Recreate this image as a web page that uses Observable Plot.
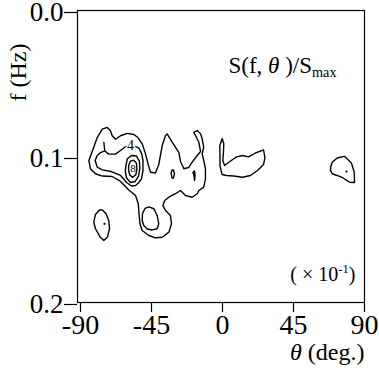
<!DOCTYPE html>
<html><head><meta charset="utf-8">
<script src="https://cdn.jsdelivr.net/npm/d3@7"></script>
<script src="https://cdn.jsdelivr.net/npm/@observablehq/plot@0.6"></script>
<style>body{margin:0;background:#fff} svg{display:block} svg text{font-family:'Liberation Serif','Times New Roman',serif}</style>
</head><body><div id="chart"></div>
<script>
// Axis ticks
const xTicks = [-90, -45, 0, 45, 90];
const yTicks = [0, 0.1, 0.2];

// Contour polylines: [theta (deg), f (Hz)]
const contourOuter = [[-81.6,0.0936],[-79.4,0.0870],[-76.2,0.0813],[-73.1,0.0801],[-71.0,0.0824],[-69.9,0.0858],[-67.8,0.0882],[-64.6,0.0858],[-60.4,0.0842],[-56.2,0.0849],[-53.6,0.0870],[-50.9,0.0913],[-48.8,0.0982],[-46.9,0.1062],[-45.6,0.1108],[-42.5,0.1113],[-40.4,0.1055],[-38.2,0.0925],[-36.1,0.0856],[-35.1,0.0845],[-31.9,0.0902],[-27.7,0.0971],[-26.6,0.1034],[-24.5,0.1084],[-21.4,0.1075],[-19.2,0.1039],[-16.0,0.0993],[-13.9,0.0966],[-15.0,0.0902],[-17.1,0.0856],[-18.2,0.0834],[-16.0,0.0822],[-13.9,0.0845],[-12.9,0.0879],[-11.9,0.0936],[-12.9,0.0982],[-11.9,0.1027],[-10.8,0.1084],[-10.8,0.1153],[-11.9,0.1210],[-15.0,0.1233],[-16.0,0.1255],[-19.2,0.1279],[-23.5,0.1267],[-26.6,0.1233],[-29.8,0.1255],[-34.0,0.1279],[-36.6,0.1301],[-37.8,0.1336],[-36.1,0.1370],[-33.0,0.1404],[-32.3,0.1461],[-34.0,0.1518],[-38.2,0.1553],[-42.5,0.1557],[-46.7,0.1541],[-50.9,0.1507],[-52.3,0.1461],[-52.9,0.1392],[-53.4,0.1324],[-55.1,0.1267],[-59.4,0.1229],[-64.6,0.1171],[-69.9,0.1137],[-76.2,0.1134],[-80.5,0.1118],[-83.7,0.1084],[-84.7,0.1027]];
const contourFour = [[-75.2,0.0904],[-74.6,0.0962],[-72.1,0.0984],[-67.8,0.0984],[-63.6,0.0950],[-61.5,0.0932],[-58.3,0.0928],[-55.1,0.0932],[-53.0,0.0942],[-51.3,0.0979],[-50.4,0.1027],[-50.4,0.1096],[-51.3,0.1151],[-53.0,0.1178],[-55.1,0.1199],[-57.7,0.1202],[-60.8,0.1178],[-64.6,0.1130],[-70.5,0.1103],[-76.2,0.1092],[-79.4,0.1073],[-80.7,0.1027],[-79.4,0.0993],[-77.3,0.0973],[-74.6,0.0962]];
const contourSix = [[-61.2,0.1062],[-60.3,0.1015],[-57.7,0.0993],[-54.5,0.0997],[-52.7,0.1031],[-52.4,0.1082],[-53.2,0.1134],[-55.3,0.1171],[-58.3,0.1178],[-60.8,0.1147],[-61.6,0.1103]];
const contourEight = [[-59.5,0.1062],[-58.5,0.1034],[-56.4,0.1025],[-54.6,0.1045],[-54.2,0.1082],[-54.9,0.1124],[-57.0,0.1142],[-58.8,0.1126],[-59.5,0.1096]];
const contourLowOval = [[-50.9,0.1438],[-50.7,0.1390],[-49.1,0.1356],[-46.7,0.1345],[-43.5,0.1358],[-41.4,0.1404],[-40.4,0.1461],[-41.4,0.1495],[-44.6,0.1503],[-47.7,0.1497],[-49.9,0.1473]];
const contourLeftOval = [[-81.6,0.1450],[-80.5,0.1397],[-78.0,0.1366],[-76.1,0.1366],[-73.8,0.1392],[-72.1,0.1438],[-71.6,0.1495],[-72.9,0.1551],[-75.2,0.1575],[-77.6,0.1551],[-80.5,0.1495]];
const contourMiddle = [[-0.2,0.0879],[0.8,0.0913],[0.6,0.0973],[0.2,0.1027],[1.3,0.1062],[5.1,0.1031],[8.9,0.1003],[12.7,0.0993],[16.5,0.1003],[20.9,0.0976],[26.0,0.0955],[26.9,0.1007],[26.0,0.1055],[22.2,0.1096],[17.7,0.1130],[12.7,0.1142],[7.0,0.1134],[2.5,0.1130],[-0.3,0.1123],[-1.6,0.1062],[-1.6,0.0993],[-1.7,0.0925]];
const contourRightOval = [[68.5,0.1075],[69.5,0.1039],[72.7,0.1010],[77.3,0.0999],[81.7,0.1045],[83.5,0.1108],[83.7,0.1178],[80.5,0.1176],[76.4,0.1147],[72.7,0.1130],[69.5,0.1118],[68.5,0.1096]];
const contourTinyA = [[-32.6,0.1116],[-32.0,0.1092],[-31.1,0.1092],[-30.4,0.1116],[-31.1,0.1147],[-32.0,0.1147]];
const contourTinyB = [[-18.7,0.1110],[-17.7,0.1099],[-17.4,0.1130],[-17.7,0.1164],[-18.1,0.1130]];

// Local maxima markers
const peakTheta = [-74.8, 78.6];
const peakF = [0.1461, 0.1103];

// Contour labels (×10^-1)
const labelTheta = [-58.3, -56.8];
const labelF = [0.0928, 0.1082];
const labelText = ["4", "8"];

const contours = [
  {id: "outer", pts: contourOuter, closed: true},
  {id: "four", pts: contourFour, closed: false},
  {id: "six", pts: contourSix, closed: true},
  {id: "eight", pts: contourEight, closed: true},
  {id: "lowOval", pts: contourLowOval, closed: true},
  {id: "leftOval", pts: contourLeftOval, closed: true},
  {id: "middle", pts: contourMiddle, closed: true},
  {id: "rightOval", pts: contourRightOval, closed: true},
  {id: "tinyA", pts: contourTinyA, closed: true},
  {id: "tinyB", pts: contourTinyB, closed: true}
];
const rows = contours.flatMap(c => (c.closed ? c.pts.concat([c.pts[0]]) : c.pts).map(([theta, f]) => ({id: c.id, theta, f})));
const peaks = peakTheta.map((t, i) => ({theta: t, f: peakF[i]}));
const labels = labelTheta.map((t, i) => ({theta: t, f: labelF[i], text: labelText[i]}));

const titleParts = [{t: "S(f, "}, {t: "θ", it: true}, {t: " )/S"}, {t: "max", sub: true}];
const unitParts = [{t: "( × 10"}, {t: "-1", sup: true}, {t: ")"}];
const xLabelParts = [{t: "θ", it: true}, {t: " (deg.)"}];
const join = p => p.map(d => d.t).join("");

const serif = "'Liberation Serif', 'Times New Roman', serif";

const chart = Plot.plot({
  width: 379, height: 375,
  marginLeft: 77, marginRight: 15, marginTop: 10, marginBottom: 73,
  style: {fontFamily: serif, fontSize: "28px", background: "white", color: "black"},
  x: {domain: [-90, 90], insetLeft: 3},
  y: {domain: [0, 0.2], reverse: true},
  marks: [
    Plot.frame({stroke: "black", strokeWidth: 1.2}),
    Plot.line(rows, {x: "theta", y: "f", z: "id", stroke: "black", strokeWidth: 1.4}),
    Plot.dot(peaks, {x: "theta", y: "f", r: 1.1, fill: "black"}),
    Plot.text(labels.slice(0, 1), {x: "theta", y: "f", text: "text", fontSize: 14, fontFamily: serif, fill: "black", stroke: "white", strokeWidth: 2.5}),
    Plot.text(labels.slice(1), {x: "theta", y: "f", text: "text", fontSize: 11, fontFamily: serif, fill: "black"}),
    Plot.axisX({ticks: xTicks, tickSize: 10, tickPadding: 2, tickFormat: d => String(d), fontSize: 28, fontFamily: serif, label: null, strokeWidth: 1.2}),
    Plot.axisY({ticks: yTicks, tickSize: 13, tickPadding: 1, tickFormat: d3.format(".1f"), fontSize: 27, fontFamily: serif, label: null, strokeWidth: 1.2, dy: 2}),
    Plot.text([join(titleParts)], {x: 3.8, y: 0.0425, text: d => d, textAnchor: "start", lineAnchor: "bottom", fontSize: 23, fontFamily: serif}),
    Plot.text([join(unitParts)], {x: 43, y: 0.185, text: d => d, textAnchor: "start", lineAnchor: "bottom", fontSize: 20, fontFamily: serif}),
    Plot.text([join(xLabelParts)], {frameAnchor: "bottom-right", dy: 57, dx: 0, text: d => d, textAnchor: "end", lineAnchor: "bottom", fontSize: 24, fontFamily: serif}),
    Plot.text(["f (Hz)"], {frameAnchor: "top-left", dx: -59, dy: 62, rotate: -90, text: d => d, textAnchor: "middle", lineAnchor: "middle", fontSize: 24, fontFamily: serif})
  ]
});
document.getElementById("chart").appendChild(chart);

// Rich text: subscript / superscript / italic as tspans
function rich(parts) {
  const s = join(parts);
  chart.querySelectorAll("text").forEach(el => {
    if (el.textContent !== s) return;
    const fs = parseFloat(getComputedStyle(el).fontSize) || 22;
    while (el.firstChild) el.removeChild(el.firstChild);
    let shift = 0;
    parts.forEach(p => {
      const ts = document.createElementNS("http://www.w3.org/2000/svg", "tspan");
      ts.textContent = p.t;
      let target = 0;
      if (p.sub) { ts.setAttribute("font-size", fs * 0.62); target = fs * 0.18; }
      if (p.sup) { ts.setAttribute("font-size", fs * 0.62); target = -fs * 0.4; }
      if (p.it) ts.setAttribute("font-style", "italic");
      if (target !== shift) { ts.setAttribute("dy", target - shift); shift = target; }
      el.appendChild(ts);
    });
  });
}
rich(titleParts);
rich(unitParts);
rich(xLabelParts);
</script>
</body></html>
